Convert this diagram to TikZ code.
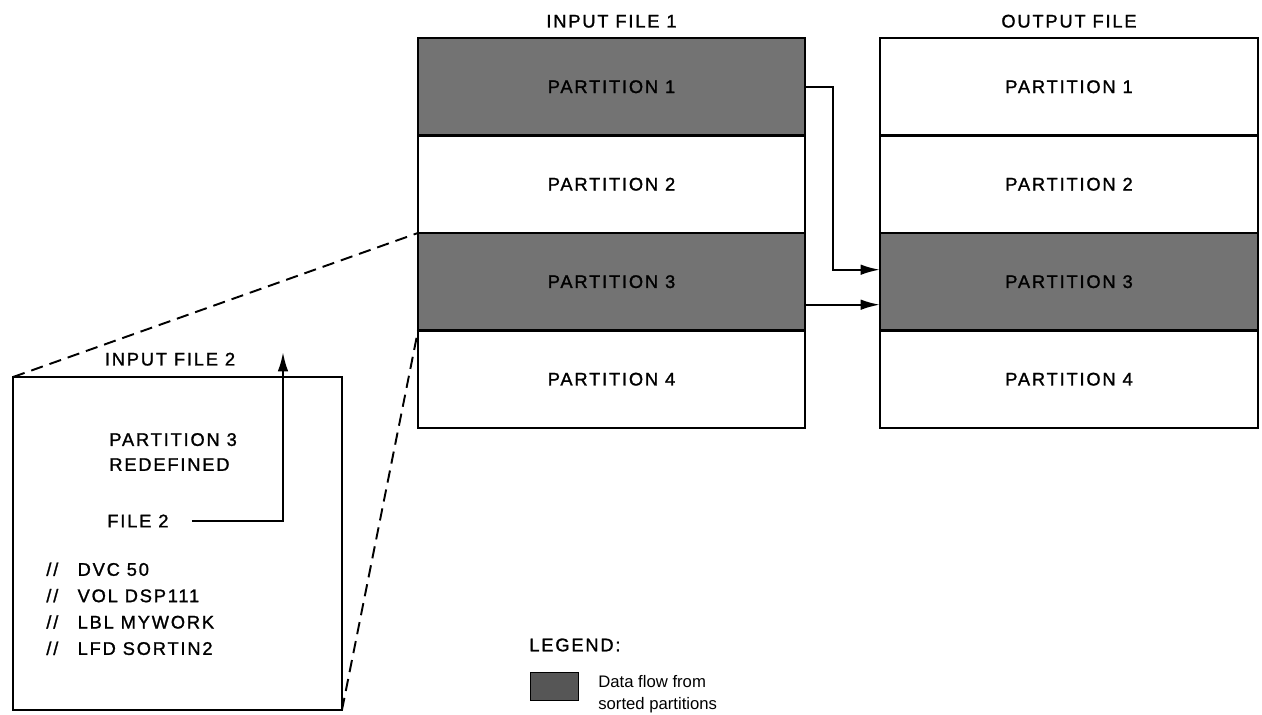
\documentclass[tikz,border=0pt]{standalone}
\usepackage{fontspec}
\setmainfont[LetterSpace=10, FakeBold=1.3]{Liberation Sans}
\newfontfamily\legendfont{Liberation Sans}
\usetikzlibrary{arrows.meta, positioning}
\definecolor{flowgray}{RGB}{115,115,115}

\tikzset{
  part/.style={draw, line width=1.4pt, fill=white, outer sep=0pt, inner sep=0pt, minimum height=1.95cm},
  sorted/.style={part, fill=flowgray},
  flow/.style={line width=1.3pt, -{Latex[length=11pt, width=6pt]}},
  zoomline/.style={line width=1.1pt, dash pattern=on 7pt off 4pt},
  title/.style={inner sep=0pt},
}

\begin{document}
\begin{tikzpicture}[x=0.02cm, y=-0.02cm, every node/.style={font=\fontsize{10.4}{12}\selectfont}]
  \useasboundingbox (0,0) rectangle (1262,715);

  % input file 1
  \node[sorted, minimum width=7.74cm] (p1) at (611.5,86.75) {PARTITION 1};
  \node[part, minimum width=7.74cm, below=0pt of p1] (p2) {PARTITION 2};
  \node[sorted, minimum width=7.74cm, below=0pt of p2] (p3) {PARTITION 3};
  \node[part, minimum width=7.74cm, below=0pt of p3] (p4) {PARTITION 4};
  \node[title, above=2mm of p1] {INPUT FILE 1};

  % output file
  \node[part, minimum width=7.56cm] (q1) at (1069,86.75) {PARTITION 1};
  \node[part, minimum width=7.56cm, below=0pt of q1] (q2) {PARTITION 2};
  \node[sorted, minimum width=7.56cm, below=0pt of q2] (q3) {PARTITION 3};
  \node[part, minimum width=7.56cm, below=0pt of q3] (q4) {PARTITION 4};
  \node[title, above=2mm of q1] {OUTPUT FILE};

  \draw[flow] (p1.east) -- ++(28,0) |- ([yshift=2.4mm]q3.west);
  \draw[flow] ([yshift=-4.6mm]p3.east) -- ([yshift=-4.6mm]q3.west);

  % input file 2
  \node[draw, line width=1.4pt, outer sep=0pt, minimum width=6.58cm, minimum height=6.66cm] (file2) at (177.5,543.5) {};
  \node[title, above=2.2mm of file2, xshift=-1.5mm] {INPUT FILE 2};
  \node[anchor=west, align=left, inner sep=0pt, font=\fontsize{10.4}{14.2}\selectfont] (redef) at (109,452) {PARTITION 3\\REDEFINED};
  \node[anchor=west, inner sep=0pt] (fileref) at (107,521) {FILE 2};
  \coordinate (up) at (283,352);
  \draw[flow] ([xshift=4.6mm]fileref.east) -| (up);
  \node[anchor=north west, inner sep=0pt, font=\fontsize{10.4}{15}\selectfont] (jcl) at (46,557) {%
    \begin{tabular}{@{}l@{\hspace{11pt}}l@{}}
      // & DVC 50\\
      // & VOL DSP111\\
      // & LBL MYWORK\\
      // & LFD SORTIN2
    \end{tabular}};

  \draw[zoomline] (file2.north west) -- (p2.south west);
  \draw[zoomline] (file2.south east) -- (p4.north west);

  % legend
  \node[anchor=west, inner sep=0pt] (legend) at (529,645) {LEGEND:};
  \node[draw, fill=flowgray!75!black, inner sep=0pt, minimum width=0.96cm, minimum height=0.56cm] (swatch) at (554,686) {};
  \node[anchor=west, align=left, inner sep=0pt, font=\legendfont\fontsize{9.5}{12.3}\selectfont] (legtext) at (598,694) {Data flow from\\sorted partitions};
\end{tikzpicture}
\end{document}
